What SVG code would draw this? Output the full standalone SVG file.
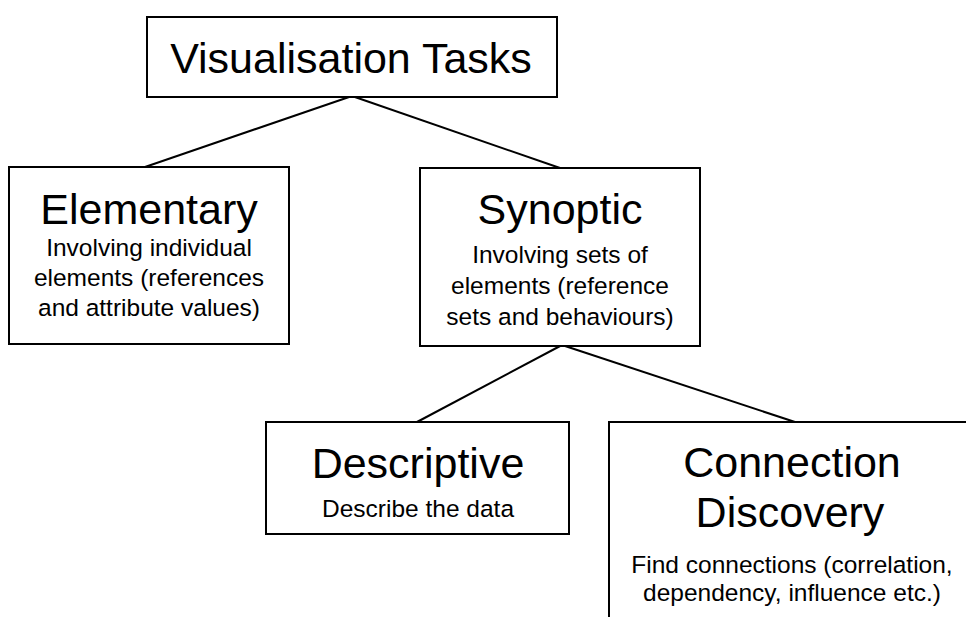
<svg xmlns="http://www.w3.org/2000/svg" width="966" height="617" viewBox="0 0 966 617">
<style>
.box{fill:#fff;stroke:#000;stroke-width:2}
.edge{stroke:#000;stroke-width:2;fill:none}
text{font-family:"Liberation Sans",Arial,sans-serif;fill:#000;text-anchor:middle}
.h{font-size:43px}
.t{font-size:43px}
.s{font-size:24.5px}
</style>
<rect width="966" height="617" fill="#fff"/>
<g id="connectors">
<line class="edge" x1="352" y1="96" x2="145" y2="167"/>
<line class="edge" x1="352" y1="96" x2="560" y2="168"/>
<line class="edge" x1="562" y1="345" x2="417" y2="422"/>
<line class="edge" x1="562" y1="345" x2="795" y2="422"/>
</g>
<g id="visualisation-tasks">
<rect class="box" x="147" y="17" width="410" height="80"/>
<text class="t" x="351" y="73">Visualisation Tasks</text>
</g>
<g id="elementary">
<rect class="box" x="9" y="167" width="280" height="177"/>
<text class="h" x="149" y="224">Elementary</text>
<text class="s" x="149" y="256">Involving individual</text>
<text class="s" x="149" y="286">elements (references</text>
<text class="s" x="149" y="316">and attribute values)</text>
</g>
<g id="synoptic">
<rect class="box" x="420" y="168" width="280" height="178"/>
<text class="h" x="560" y="224">Synoptic</text>
<text class="s" x="560" y="263">Involving sets of</text>
<text class="s" x="560" y="294">elements (reference</text>
<text class="s" x="560" y="325">sets and behaviours)</text>
</g>
<g id="descriptive">
<rect class="box" x="266" y="422" width="303" height="112"/>
<text class="h" x="418" y="478">Descriptive</text>
<text class="s" x="418" y="517">Describe the data</text>
</g>
<g id="connection-discovery">
<rect class="box" x="609" y="422" width="370" height="210"/>
<text class="h" x="792" y="477">Connection</text>
<text class="h" x="790" y="527">Discovery</text>
<text class="s" x="792" y="573">Find connections (correlation,</text>
<text class="s" x="792" y="601">dependency, influence etc.)</text>
</g>
</svg>
